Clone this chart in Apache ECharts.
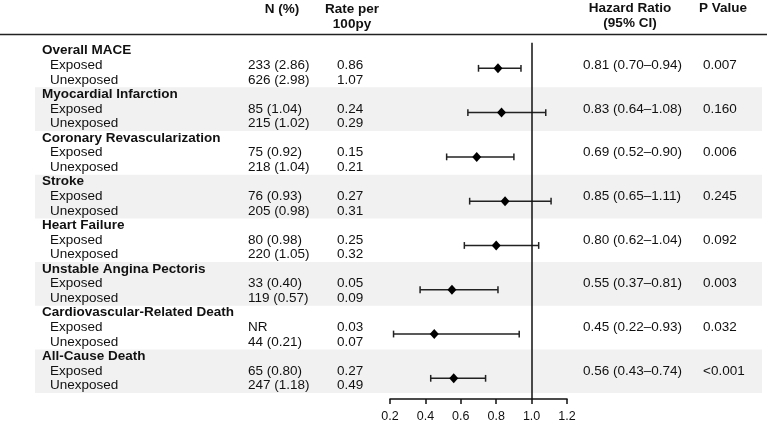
<!DOCTYPE html>
<html><head><meta charset="utf-8">
<script src="https://cdn.jsdelivr.net/npm/echarts@6/dist/echarts.min.js"></script>
<style>html,body{margin:0;padding:0;background:#fff}#c{width:771px;height:429px}</style>
</head><body><div id="c"></div>
<script>
var groups = ['Overall MACE','Myocardial Infarction','Coronary Revascularization','Stroke','Heart Failure','Unstable Angina Pectoris','Cardiovascular-Related Death','All-Cause Death'];
var subLabels = ['Exposed','Unexposed'];
var nExposed = ['233 (2.86)','85 (1.04)','75 (0.92)','76 (0.93)','80 (0.98)','33 (0.40)','NR','65 (0.80)'];
var nUnexposed = ['626 (2.98)','215 (1.02)','218 (1.04)','205 (0.98)','220 (1.05)','119 (0.57)','44 (0.21)','247 (1.18)'];
var rateExposed = ['0.86','0.24','0.15','0.27','0.25','0.05','0.03','0.27'];
var rateUnexposed = ['1.07','0.29','0.21','0.31','0.32','0.09','0.07','0.49'];
var hr = [0.81,0.83,0.69,0.85,0.80,0.55,0.45,0.56];
var ciLow = [0.70,0.64,0.52,0.65,0.62,0.37,0.22,0.43];
var ciHigh = [0.94,1.08,0.90,1.11,1.04,0.81,0.93,0.74];
var pValues = ['0.007','0.160','0.006','0.245','0.092','0.003','0.032','<0.001'];
var xTickMin = 0.2, xTickMax = 1.2, xTickStep = 0.2;

var FONT = '"Liberation Sans", Arial, Helvetica, sans-serif';
var FS = 13.5;
var rowH = 14.56, row0 = 50.7, groupH = 3 * rowH, band0 = 43.67;
var colTitle = 42, colSub = 50, colN = 248, colRate = 337, colHR = 583, colP = 703;

function txt(s, x, y, bold, align) {
  return {type:'text', z:10, style:{text:s, x:x, y:y, fill:'#111',
    font:(bold?'bold ':'') + FS + 'px ' + FONT,
    align: align||'left', verticalAlign:'middle', textAlign: align||'left', textVerticalAlign:'middle'}};
}
var g = [];
groups.forEach(function(name, i){
  if (i % 2 === 1) g.push({type:'rect', z:-5, shape:{x:35, y:band0 + i*groupH, width:727, height:groupH}, style:{fill:'#f1f1f1'}});
});
g.push({type:'line', z:10, shape:{x1:0,y1:34.5,x2:767,y2:34.5}, style:{stroke:'#222', lineWidth:1.5}});
g.push(txt('N (%)', 282, 9, true, 'center'));
g.push(txt('Rate per', 352, 9, true, 'center'));
g.push(txt('100py', 352, 24, true, 'center'));
g.push(txt('Hazard Ratio', 630, 8.5, true, 'center'));
g.push(txt('(95% CI)', 630, 23.5, true, 'center'));
g.push(txt('P Value', 723, 8.5, true, 'center'));
groups.forEach(function(name, i){
  var y0 = row0 + i*groupH;
  g.push(txt(name, colTitle, y0, true));
  g.push(txt(subLabels[0], colSub, y0 + rowH));
  g.push(txt(subLabels[1], colSub, y0 + 2*rowH));
  g.push(txt(nExposed[i], colN, y0 + rowH));
  g.push(txt(nUnexposed[i], colN, y0 + 2*rowH));
  g.push(txt(rateExposed[i], colRate, y0 + rowH));
  g.push(txt(rateUnexposed[i], colRate, y0 + 2*rowH));
  g.push(txt(hr[i].toFixed(2) + ' (' + ciLow[i].toFixed(2) + '\u2013' + ciHigh[i].toFixed(2) + ')', colHR, y0 + rowH));
  g.push(txt(pValues[i], colP, y0 + rowH));
});

var pts = hr.map(function(v,i){ return [v, i]; });
var bars = hr.map(function(v,i){ return [ciLow[i], ciHigh[i], i]; });

var chart = echarts.init(document.getElementById('c'));
chart.setOption({
  animation:false,
  graphic: g,
  grid:{left:390, right:204, top:42.7, bottom:30},
  xAxis:{type:'value', position:'bottom', min:xTickMin, max:xTickMax, interval:xTickStep,
    axisLine:{show:true, onZero:false, lineStyle:{color:'#111', width:1.6}},
    axisTick:{show:true, length:5, lineStyle:{color:'#111', width:1.5}},
    axisLabel:{color:'#111', fontSize:12.5, fontFamily:FONT, margin:11, formatter:function(v){return v.toFixed(1);}},
    splitLine:{show:false}},
  yAxis:{type:'value', inverse:true, min:-0.578, max:7.467, show:false, splitLine:{show:false}},
  series:[
    {type:'custom', z:3, data:bars, renderItem:function(params, api){
      var a = api.coord([api.value(0), api.value(2)]);
      var b = api.coord([api.value(1), api.value(2)]);
      var c = 3.4;
      var st = {stroke:'#222', lineWidth:1.5};
      return {type:'group', children:[
        {type:'line', shape:{x1:a[0],y1:a[1],x2:b[0],y2:b[1]}, style:st},
        {type:'line', shape:{x1:a[0],y1:a[1]-c,x2:a[0],y2:a[1]+c}, style:st},
        {type:'line', shape:{x1:b[0],y1:b[1]-c,x2:b[0],y2:b[1]+c}, style:st}
      ]};
    },
    markLine:{silent:true, symbol:'none', label:{show:false}, lineStyle:{color:'#111', width:1.5, type:'solid'}, data:[{xAxis:1}]}},
    {type:'scatter', z:4, data:pts, symbol:'diamond', symbolSize:[9,10], itemStyle:{color:'#000', opacity:1}}
  ]
});
</script></body></html>
